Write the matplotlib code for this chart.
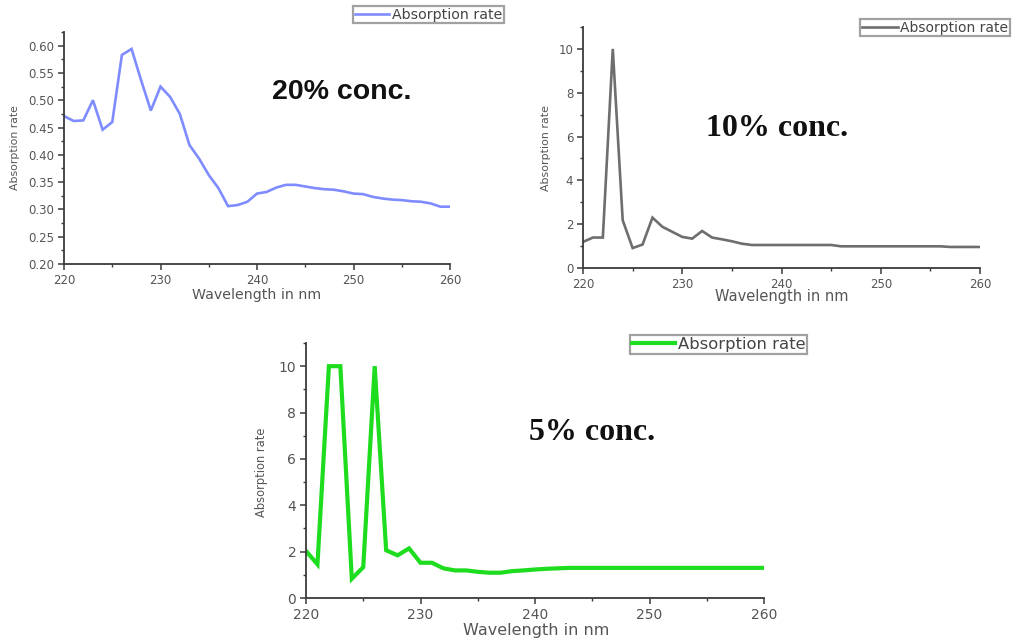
import matplotlib
matplotlib.use("Agg")
import matplotlib.pyplot as plt
from matplotlib.ticker import MultipleLocator, FormatStrFormatter

# ---------------- data ----------------
wavelength = list(range(220, 261))

abs_20 = [0.471, 0.462, 0.463, 0.500, 0.446, 0.460, 0.583, 0.594, 0.536, 0.481,
          0.525, 0.506, 0.475, 0.418, 0.393, 0.363, 0.339, 0.306, 0.308, 0.314,
          0.329, 0.332, 0.340, 0.345, 0.345, 0.342, 0.339, 0.337, 0.336, 0.333,
          0.329, 0.328, 0.323, 0.320, 0.318, 0.317, 0.315, 0.314, 0.311, 0.305,
          0.305]

abs_10 = [1.19, 1.39, 1.39, 10.0, 2.18, 0.91, 1.07, 2.30, 1.88, 1.65,
          1.42, 1.34, 1.69, 1.39, 1.31, 1.22, 1.11, 1.05, 1.05, 1.05,
          1.05, 1.05, 1.05, 1.05, 1.05, 1.05, 0.99, 0.99, 0.99, 0.99,
          0.99, 0.99, 0.99, 0.99, 0.99, 0.99, 0.99, 0.96, 0.96, 0.96,
          0.96]

abs_5 = [2.03, 1.45, 10.0, 10.0, 0.83, 1.33, 10.0, 2.06, 1.84, 2.14,
         1.52, 1.52, 1.28, 1.19, 1.19, 1.13, 1.09, 1.09, 1.16, 1.19,
         1.23, 1.26, 1.28, 1.30, 1.30, 1.30, 1.30, 1.30, 1.30, 1.30,
         1.30, 1.30, 1.30, 1.30, 1.30, 1.30, 1.30, 1.30, 1.30, 1.30,
         1.30]

x_label = "Wavelength in nm"
y_label = "Absorption rate"
legend_label = "Absorption rate"
panel_titles = ["20% conc.", "10% conc.", "5% conc."]

# ---------------- figure ----------------
W, H = 1017, 640
fig = plt.figure(figsize=(W / 100, H / 100), dpi=100)
fig.patch.set_facecolor("white")
plt.rcParams["font.family"] = ["DejaVu Sans"]


def px_axes(x0, x1, ytop, ybot):
    return fig.add_axes([x0 / W, 1 - ybot / H, (x1 - x0) / W, (ybot - ytop) / H])


def fx(x):
    return x / W


def fy(y):
    return 1 - y / H


def style_axes(ax, ylim, ymaj, ymin, yfmt, tick_fs):
    ax.set_xlim(220, 260)
    ax.set_ylim(*ylim)
    for s in ["top", "right"]:
        ax.spines[s].set_visible(False)
    for s in ["left", "bottom"]:
        ax.spines[s].set_color("#3a3a3a")
        ax.spines[s].set_linewidth(1.3)
    ax.xaxis.set_major_locator(MultipleLocator(10))
    ax.xaxis.set_minor_locator(MultipleLocator(5))
    ax.yaxis.set_major_locator(MultipleLocator(ymaj))
    ax.yaxis.set_minor_locator(MultipleLocator(ymin))
    ax.yaxis.set_major_formatter(FormatStrFormatter(yfmt))
    ax.tick_params(which="major", direction="out", length=4, width=1.1,
                   color="#3a3a3a", labelsize=tick_fs, labelcolor="#555555", pad=3)
    ax.tick_params(which="minor", direction="out", length=2.5, width=1.0,
                   color="#3a3a3a")
    ax.set_facecolor("none")


def add_legend(ax, line, x0, ytop, fs, hl, tp=0.2):
    leg = ax.legend([line], [legend_label], loc="upper left",
                    bbox_to_anchor=(fx(x0), fy(ytop)), bbox_transform=fig.transFigure,
                    borderaxespad=0, fontsize=fs, frameon=True, fancybox=False,
                    edgecolor="#8a8a8a", handlelength=hl, handletextpad=tp,
                    borderpad=0.12, labelcolor="#444444")
    leg.get_frame().set_linewidth(1.6)
    return leg


# ---- panel 1: 20% ----
ax1 = px_axes(64, 450, 32, 264)
style_axes(ax1, (0.2, 0.625), 0.05, 0.025, "%.2f", 8.5)
l1, = ax1.plot(wavelength, abs_20, color="#7f8cff", lw=1.9, solid_joinstyle="miter")
add_legend(ax1, l1, 353, 6, 10.2, 2.4)
fig.text(fx(257), fy(295), x_label, ha="center", va="center", fontsize=10.2, color="#555555")
fig.text(fx(15), fy(148), y_label, ha="center", va="center", rotation=90, fontsize=7.8, color="#555555")
fig.text(fx(342), fy(92), panel_titles[0], ha="center", va="center",
         fontsize=20.5, fontweight="bold", family="Liberation Sans", color="#111111")

# ---- panel 2: 10% ----
ax2 = px_axes(583, 980, 27, 268)
style_axes(ax2, (0, 11), 2, 1, "%d", 8.5)
l2, = ax2.plot(wavelength, abs_10, color="#6e6e6e", lw=1.9, solid_joinstyle="miter")
add_legend(ax2, l2, 860, 19, 10.0, 2.6, tp=0.15)
fig.text(fx(782), fy(297), x_label, ha="center", va="center", fontsize=10.5, color="#555555")
fig.text(fx(546), fy(148), y_label, ha="center", va="center", rotation=90, fontsize=7.9, color="#555555")
fig.text(fx(777), fy(128), panel_titles[1], ha="center", va="center",
         fontsize=23, fontweight="bold", family="Liberation Serif", color="#111111")

# ---- panel 3: 5% ----
ax3 = px_axes(306, 764, 343, 598)
style_axes(ax3, (0, 11), 2, 1, "%d", 10)
l3, = ax3.plot(wavelength, abs_5, color="#1edc1e", lw=3.0, solid_joinstyle="miter")
add_legend(ax3, l3, 630, 335, 11.8, 2.6)
fig.text(fx(536), fy(631), x_label, ha="center", va="center", fontsize=11.5, color="#555555")
fig.text(fx(261), fy(472), y_label, ha="center", va="center", rotation=90, fontsize=8.3, color="#555555")
fig.text(fx(592), fy(432), panel_titles[2], ha="center", va="center",
         fontsize=23, fontweight="bold", family="Liberation Serif", color="#111111")

fig.savefig("out.png", dpi=100, facecolor="white")
